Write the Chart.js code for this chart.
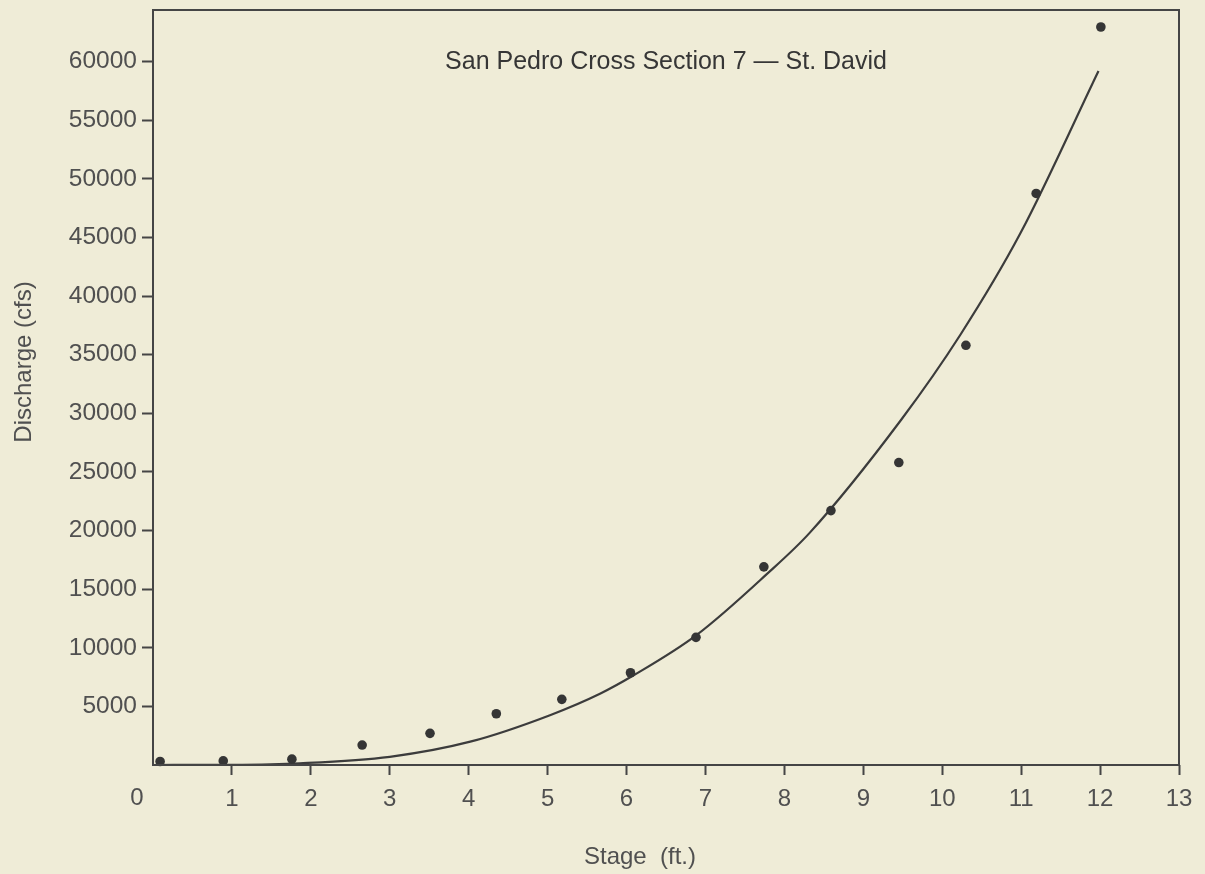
<!DOCTYPE html>
<html>
<head>
<meta charset="utf-8">
<script src="https://cdn.jsdelivr.net/npm/chart.js@4.4.1/dist/chart.umd.min.js"></script>
<style>
  html, body { margin: 0; padding: 0; background: #efecd7; }
  #wrap { width: 1205px; height: 874px; }
</style>
</head>
<body>
<div id="wrap"><canvas id="c" width="1205" height="874"></canvas></div>
<script>
// ---- data ----
const chartTitle = "San Pedro Cross Section 7 \u2014 St. David";
const xTitle = "Stage  (ft.)";
const yTitle = "Discharge (cfs)";

// observed points
const stage = [0.09, 0.89, 1.76, 2.65, 3.51, 4.35, 5.18, 6.05, 6.88, 7.74, 8.59, 9.45, 10.30, 11.19, 12.01];
const discharge = [300, 350, 500, 1700, 2700, 4370, 5600, 7870, 10890, 16900, 21700, 25800, 35800, 48750, 62950];

// fitted rating curve
const fitStage = [0, 1.0, 1.86, 3.0, 4.02, 5.03, 5.67, 6.09, 6.89, 7.78, 8.32, 9.48, 10.23, 10.99, 11.98];
const fitDischarge = [0, 20, 150, 700, 1990, 4250, 6100, 7650, 11100, 16300, 19800, 29450, 36700, 45350, 59200];

// axis ticks
const xTicks = [1, 2, 3, 4, 5, 6, 7, 8, 9, 10, 11, 12, 13];
const yTicks = [5000, 10000, 15000, 20000, 25000, 30000, 35000, 40000, 45000, 50000, 55000, 60000];
const xMin = 0, xMax = 13, yMin = 0, yMax = 64400;

const FONT = "'Liberation Sans', Arial, Helvetica, sans-serif";
const INK = '#454545';
const TXT = '#505050';

const bgPlugin = {
  id: 'bg',
  beforeDraw(chart) {
    const ctx = chart.ctx;
    ctx.save();
    ctx.fillStyle = '#efecd7';
    ctx.fillRect(0, 0, chart.width, chart.height);
    ctx.restore();
  }
};

const decorPlugin = {
  id: 'decor',
  afterDraw(chart) {
    const ctx = chart.ctx;
    const a = chart.chartArea;
    const xs = chart.scales.x;
    ctx.save();
    // frame
    ctx.strokeStyle = INK;
    ctx.lineWidth = 2;
    ctx.strokeRect(a.left, a.top, a.right - a.left, a.bottom - a.top);
    // title inside plot
    ctx.fillStyle = '#363636';
    ctx.font = '25px ' + FONT;
    ctx.textAlign = 'center';
    ctx.textBaseline = 'alphabetic';
    ctx.fillText(chartTitle, (a.left + a.right) / 2, 69);
    // x-axis "0" label (offset left of the corner as in the reference)
    ctx.fillStyle = TXT;
    ctx.font = '24px ' + FONT;
    ctx.fillText('0', xs.getPixelForValue(0) - 16, 805);
    // x title
    ctx.font = '24px ' + FONT;
    ctx.fillText(xTitle, 640, 864);
    // y title
    ctx.translate(31, 362);
    ctx.rotate(-Math.PI / 2);
    ctx.textBaseline = 'alphabetic';
    ctx.fillText(yTitle, 0, 0);
    ctx.restore();
  }
};

new Chart(document.getElementById('c'), {
  type: 'scatter',
  data: {
    datasets: [
      {
        label: 'Rating curve',
        data: fitStage.map((x, i) => ({ x: x, y: fitDischarge[i] })),
        showLine: true,
        borderColor: '#3c3c3c',
        borderWidth: 2.2,
        pointRadius: 0,
        cubicInterpolationMode: 'monotone',
        fill: false,
        clip: false,
        order: 2
      },
      {
        label: 'Observed',
        data: stage.map((x, i) => ({ x: x, y: discharge[i] })),
        showLine: false,
        pointRadius: 4.8,
        pointBackgroundColor: '#353535',
        pointBorderColor: '#353535',
        pointBorderWidth: 0,
        clip: false,
        order: 1
      }
    ]
  },
  options: {
    responsive: false,
    animation: false,
    devicePixelRatio: 1,
    layout: { padding: { left: 0, right: 26, top: 10, bottom: 0 } },
    plugins: {
      legend: { display: false },
      tooltip: { enabled: false },
      title: { display: false }
    },
    scales: {
      x: {
        type: 'linear',
        min: xMin, max: xMax,
        afterFit(s) { s.height = 874 - 765; s.paddingLeft = 0; s.paddingRight = 0; },
        afterBuildTicks(s) { s.ticks = xTicks.map(v => ({ value: v })); },
        ticks: {
          autoSkip: false,
          padding: 10,
          color: TXT,
          font: { family: FONT, size: 24 },
          maxRotation: 0
        },
        grid: { drawOnChartArea: false, drawTicks: true, tickLength: 10, tickColor: INK, tickWidth: 2 },
        border: { display: false }
      },
      y: {
        type: 'linear',
        min: yMin, max: yMax,
        afterFit(s) { s.width = 153; s.paddingTop = 0; s.paddingBottom = 0; },
        afterBuildTicks(s) { s.ticks = yTicks.map(v => ({ value: v })); },
        ticks: {
          autoSkip: false,
          padding: 5,
          color: TXT,
          font: { family: FONT, size: 24.5 },
          callback: v => String(v)
        },
        grid: { drawOnChartArea: false, drawTicks: true, tickLength: 11, tickColor: INK, tickWidth: 2 },
        border: { display: false }
      }
    }
  },
  plugins: [bgPlugin, decorPlugin]
});
</script>
</body>
</html>
